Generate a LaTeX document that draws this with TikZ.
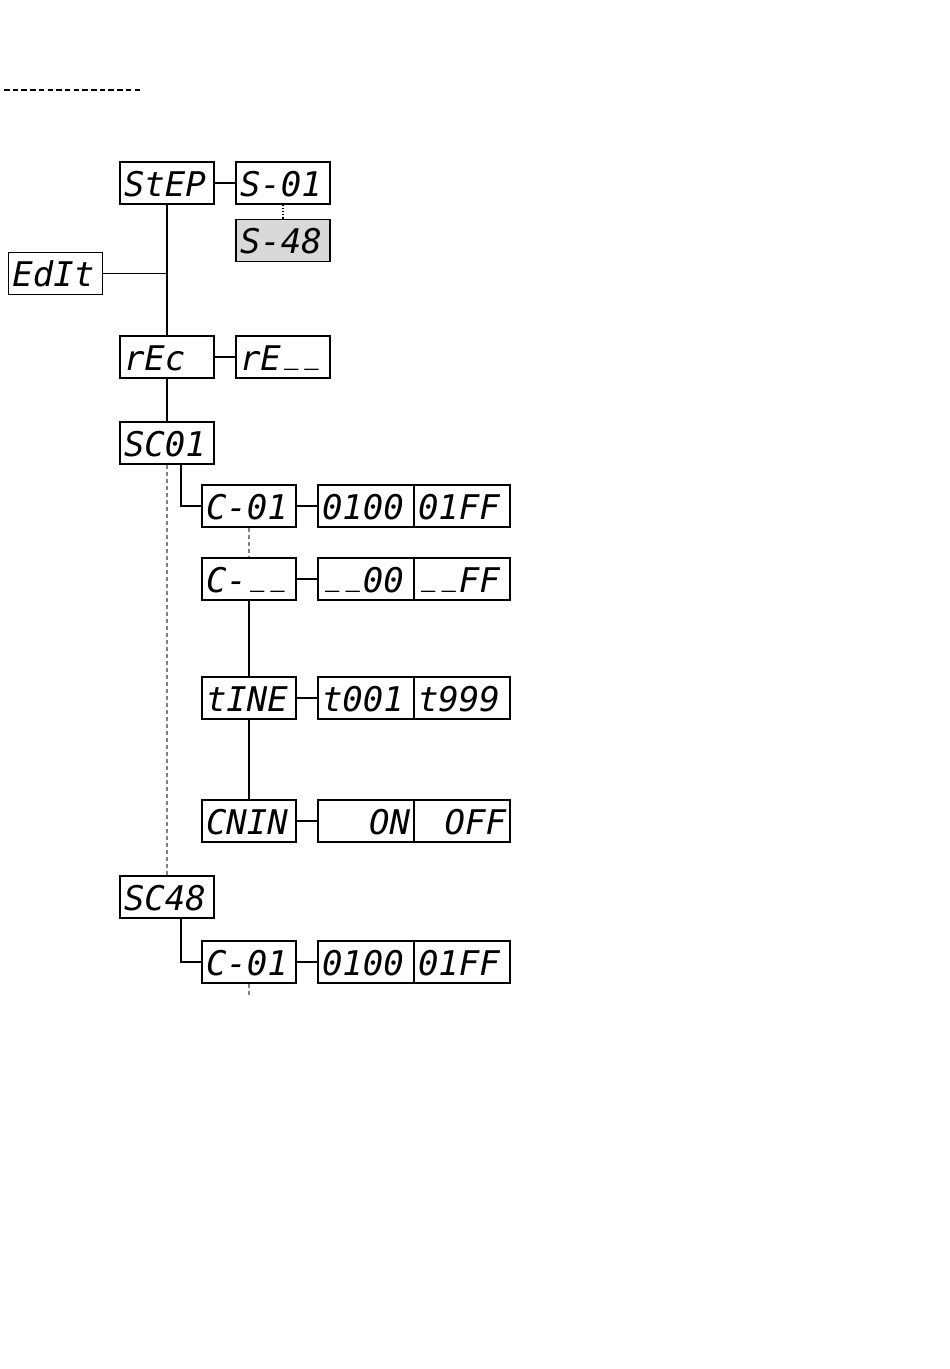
\documentclass[tikz,border=0pt]{standalone}
\usepackage{fontspec}
\newfontfamily\segfont{DejaVu Sans Mono}
\newcommand\segus{\makebox[0.602em]{\scalebox{0.7}[1]{\raisebox{8pt}{\_}}}}
\begin{document}
\begin{tikzpicture}[x=1pt,y=-1pt,
  disp/.style={draw,line width=1.3pt,minimum height=42pt,inner xsep=4pt,inner ysep=0pt,
    text width=86pt,align=left,text height=26pt,text depth=0pt,
    font=\segfont\itshape\fontsize{34}{34}\selectfont},
  val/.style={disp,text width=88pt},
  valr/.style={val,align=right},
  link/.style={line width=1.3pt},
  dashlink/.style={line width=1.2pt,gray,dash pattern=on 4pt off 3pt},
  dotlink/.style={line width=1.2pt,dotted}]
\useasboundingbox (0,0) rectangle (950,1369);
% top-left dashed rule
\coordinate (r1) at (4,90);
\coordinate (r2) at (141,90);
\draw[line width=1.2pt,dash pattern=on 5.5pt off 3.2pt] (r1) -- (r2);
% nodes
\node[disp] (step) at (167,183) {StEP};
\node[disp] (s01) at (283,183) {S-01};
\node[disp,fill=black!15] (s48) at (283,240.5) {S-48};
\node[disp] (edit) at (55.5,273.5) {EdIt};
\node[disp] (rec) at (167,357) {rEc};
\node[disp] (re) at (283,357) {rE\segus\segus};
\node[disp] (sc01) at (167,443) {SC01};
\node[disp] (c01) at (249,506) {C-01};
\node[val] (v1a) at (366,506) {0100};
\node[val] (v1b) at (462,506) {01FF};
\node[disp] (cxx) at (249,579) {C-\segus\segus};
\node[val] (v2a) at (366,579) {\segus\segus00};
\node[val] (v2b) at (462,579) {\segus\segus FF};
\node[disp] (time) at (249,698) {tINE};
\node[val] (v3a) at (366,698) {t001};
\node[val] (v3b) at (462,698) {t999};
\node[disp] (cnin) at (249,821) {CNIN};
\node[valr] (v4a) at (366,821) {ON};
\node[valr] (v4b) at (462,821) {OFF};
\node[disp] (sc48) at (167,897) {SC48};
\node[disp] (c01b) at (249,962) {C-01};
\node[val] (v5a) at (366,962) {0100};
\node[val] (v5b) at (462,962) {01FF};
\coordinate (c01bend) at (249,997);
% connectors
\draw[link] (step.east) -- (s01.west);
\draw[dotlink] (s01.south) -- (s48.north);
\draw[link] (step.south) -- (rec.north);
\draw[link] (edit.east) -- (edit.east -| step.south);
\draw[link] (re.west) -- (rec.east);
\draw[link] (rec.south) -- (sc01.north);
\draw[link] ([xshift=14pt]sc01.south) |- (c01.west);
\draw[dashlink] (sc01.south) -- (sc48.north);
\draw[link] (c01.east) -- (v1a.west);
\draw[dashlink] (c01.south) -- (cxx.north);
\draw[link] (cxx.east) -- (v2a.west);
\draw[link] (cxx.south) -- (time.north);
\draw[link] (time.east) -- (v3a.west);
\draw[link] (time.south) -- (cnin.north);
\draw[link] (cnin.east) -- (v4a.west);
\draw[link] ([xshift=14pt]sc48.south) |- (c01b.west);
\draw[link] (c01b.east) -- (v5a.west);
\draw[dashlink] (c01b.south) -- (c01bend);
\end{tikzpicture}
\end{document}
